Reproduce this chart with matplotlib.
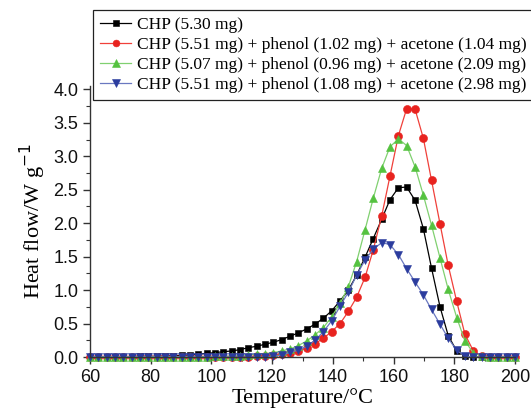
import matplotlib
import matplotlib.pyplot as plt
from matplotlib.ticker import MultipleLocator

matplotlib.use("Agg")

# temperature grid of the DSC curves (°C)
temperature = [
    60.0, 62.7, 65.5, 68.2, 71.0, 73.7, 76.5, 79.2, 82.0, 84.7,
    87.5, 90.2, 92.9, 95.7, 98.4, 101.2, 103.9, 106.7, 109.4, 112.2,
    114.9, 117.6, 120.4, 123.1, 125.9, 128.6, 131.4, 134.1, 136.9, 139.6,
    142.4, 145.1, 147.8, 150.6, 153.3, 156.1, 158.8, 161.6, 164.3, 167.1,
    169.8, 172.5, 175.3, 178.0, 180.8, 183.5, 186.3, 189.0, 191.8, 194.5,
    197.3, 200.0,
]

chp = [
    0.0, 0.0, 0.0, 0.0, 0.005, 0.005, 0.01, 0.01, 0.01, 0.015,
    0.02, 0.025, 0.03, 0.04, 0.055, 0.065, 0.08, 0.09, 0.11, 0.14,
    0.16, 0.19, 0.22, 0.26, 0.31, 0.36, 0.42, 0.49, 0.58, 0.69,
    0.84, 1.0, 1.22, 1.49, 1.77, 2.06, 2.35, 2.53, 2.54, 2.34,
    1.92, 1.33, 0.75, 0.32, 0.09, 0.015, 0.0, 0.0, 0.0, 0.0,
    0.0, 0.0,
]

mix_1 = [
    0.0, 0.0, 0.0, 0.0, 0.0, 0.0, 0.0, 0.0, 0.0, 0.0,
    0.0, 0.0, 0.0, 0.0, 0.0, 0.0, 0.0, 0.0, 0.0, 0.005,
    0.01, 0.015, 0.025, 0.04, 0.06, 0.09, 0.14, 0.20, 0.28, 0.38,
    0.50, 0.68, 0.89, 1.19, 1.60, 2.11, 2.70, 3.31, 3.71, 3.70,
    3.27, 2.64, 1.99, 1.37, 0.83, 0.34, 0.09, 0.01, 0.0, 0.0,
    0.0, 0.0,
]

mix_2 = [
    0.005, 0.005, 0.005, 0.005, 0.005, 0.005, 0.005, 0.005, 0.005, 0.005,
    0.005, 0.005, 0.005, 0.005, 0.005, 0.01, 0.01, 0.015, 0.02, 0.03,
    0.04, 0.05, 0.065, 0.09, 0.12, 0.17, 0.24, 0.33, 0.44, 0.60,
    0.80, 1.05, 1.42, 1.90, 2.37, 2.82, 3.14, 3.26, 3.16, 2.84,
    2.42, 1.97, 1.48, 1.01, 0.59, 0.24, 0.06, 0.01, 0.005, 0.005,
    0.005, 0.005,
]

mix_3 = [
    0.0, 0.0, 0.0, 0.0, 0.0, 0.0, 0.0, 0.0, 0.0, 0.0,
    0.0, 0.0, 0.0, 0.0, 0.0, 0.0, 0.0, 0.0, 0.0, 0.0,
    0.0, 0.0, 0.01, 0.03, 0.07, 0.10, 0.16, 0.25, 0.38, 0.54,
    0.76, 0.97, 1.22, 1.45, 1.61, 1.71, 1.68, 1.53, 1.32, 1.12,
    0.93, 0.71, 0.49, 0.28, 0.10, 0.015, 0.0, 0.0, 0.0, 0.0,
    0.0, 0.0,
]

labels = [
    "CHP (5.30 mg)",
    "CHP (5.51 mg) + phenol (1.02 mg) + acetone (1.04 mg)",
    "CHP (5.07 mg) + phenol (0.96 mg) + acetone (2.09 mg)",
    "CHP (5.51 mg) + phenol (1.08 mg) + acetone (2.98 mg)",
]

SERIES = [
    (chp, "#000000", "#000000", "s", 5.0),
    (mix_1, "#e8231f", "#f0403a", "o", 5.8),
    (mix_2, "#55c240", "#80d070", "^", 6.0),
    (mix_3, "#2b3c9e", "#6a78c0", "v", 6.0),
]

fig = plt.figure(figsize=(5.31, 4.13), dpi=100)
ax = fig.add_axes([90 / 531, 1 - 357 / 413, 425 / 531, 271 / 413])

for (values, mcolor, lcolor, marker, ms), label in zip(SERIES, labels):
    ax.plot(
        temperature, values,
        color=lcolor, linewidth=0.9,
        marker=marker, markersize=ms,
        markerfacecolor=mcolor, markeredgecolor=mcolor, markeredgewidth=0.4,
        label=label, clip_on=False,
    )

ax.set_xlim(60, 200)
ax.set_ylim(0, 4.05)
ax.xaxis.set_major_locator(MultipleLocator(20))
ax.xaxis.set_minor_locator(MultipleLocator(10))
ax.yaxis.set_major_locator(MultipleLocator(0.5))
ax.yaxis.set_minor_locator(MultipleLocator(0.25))
ax.yaxis.set_major_formatter(matplotlib.ticker.FormatStrFormatter("%.1f"))

for side in ("top", "right"):
    ax.spines[side].set_visible(False)
for side in ("left", "bottom"):
    ax.spines[side].set_color("#333333")
    ax.spines[side].set_linewidth(1.0)

ax.tick_params(which="major", direction="out", length=5, width=1.0,
               colors="#333333", labelcolor="#111111", labelsize=13)
ax.tick_params(which="minor", direction="out", length=3, width=0.8,
               colors="#333333")
for t in ax.get_xticklabels() + ax.get_yticklabels():
    t.set_fontfamily("Liberation Sans")

ax.set_xlabel("Temperature/°C", fontfamily="Liberation Serif", fontsize=16,
              labelpad=2)
ax.set_ylabel("Heat flow/W g$^{-1}$", fontfamily="Liberation Serif",
              fontsize=16, labelpad=4)

leg = fig.legend(
    loc="upper left", bbox_to_anchor=(93 / 531, 1 - 10 / 413),
    prop={"family": "Liberation Serif", "size": 12.5},
    frameon=True, fancybox=False, framealpha=1.0, edgecolor="#222222",
    handlelength=1.8, handletextpad=0.35, labelspacing=0.22,
    borderpad=0.4, borderaxespad=0.0, markerscale=0.85,
)
leg.get_frame().set_linewidth(0.9)

fig.savefig("out.png", dpi=100)
